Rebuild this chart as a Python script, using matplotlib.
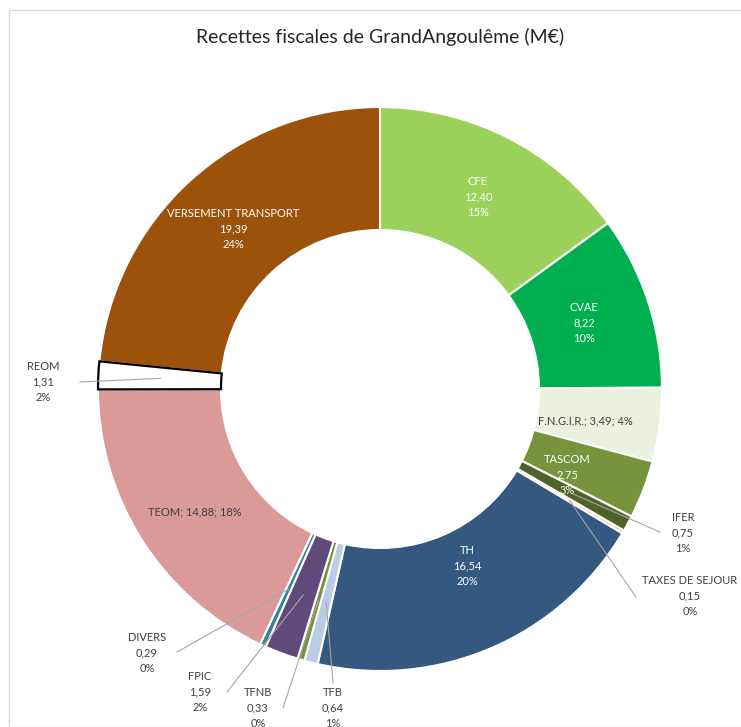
import numpy as np
import matplotlib.pyplot as plt
from matplotlib.patches import Rectangle

# données (M€), dans l'ordre du graphique, en partant du haut et dans le sens horaire
noms = ['CFE', 'CVAE', 'F.N.G.I.R.', 'TASCOM', 'IFER', 'TAXES DE SEJOUR', 'TH',
        'TFB', 'TFNB', 'FPIC', 'DIVERS', 'TEOM', 'REOM', 'VERSEMENT TRANSPORT']
valeurs = [12.40, 8.22, 3.49, 2.75, 0.75, 0.15, 16.54,
           0.64, 0.33, 1.59, 0.29, 14.88, 1.31, 19.39]
pourcents = [15, 10, 4, 3, 1, 0, 20, 1, 0, 2, 0, 18, 2, 24]

couleurs = ['#9CD25C', '#00B050', '#EBF1DE', '#77933C', '#4F6228', '#FAC08F', '#34587F',
            '#B9CDE5', '#76923C', '#604A7B', '#31859C', '#DA9A98', '#FFFFFF', '#9C520B']

# mise en page des étiquettes (pixels dans l'image) : x, y, séparateur, couleur, point d'attache du trait
CX, CY, R = 380, 389, 282
W, H = 741, 727
etiquettes = {
    'CFE': (478, 197, '\n', 'white', None),
    'CVAE': (584, 323, '\n', 'white', None),
    'F.N.G.I.R.': (585, 421, '; ', '#404040', None),
    'TASCOM': (567, 475, '\n', 'white', None),
    'IFER': (683, 533, '\n', '#404040', (660, 532)),
    'TAXES DE SEJOUR': (690, 596, '\n', '#404040', (636, 597)),
    'TH': (467, 566, '\n', 'white', None),
    'TFB': (333, 708, '\n', '#404040', (333, 683)),
    'TFNB': (258, 708, '\n', '#404040', (283, 708)),
    'FPIC': (200, 692, '\n', '#404040', (227, 692)),
    'DIVERS': (147, 653, '\n', '#404040', (177, 652)),
    'TEOM': (195, 512, '; ', '#404040', None),
    'REOM': (43, 382, '\n', '#404040', (80, 382)),
    'VERSEMENT TRANSPORT': (233, 229, '\n', 'white', None),
}


def px(x, y):
    return (x - CX) / R, (CY - y) / R


plt.rcParams['font.family'] = ['Lato', 'DejaVu Sans']

fig = plt.figure(figsize=(W / 100, H / 100), dpi=100)
ax = fig.add_axes([0, 0, 1, 1])

wedges, _ = ax.pie(valeurs, colors=couleurs, startangle=90, counterclock=False,
                   radius=1, wedgeprops=dict(width=1 - 159 / R, edgecolor='white', linewidth=1.5))
# REOM : blanc avec bordure noire
wedges[noms.index('REOM')].set_edgecolor('black')
wedges[noms.index('REOM')].set_linewidth(1.6)
wedges[noms.index('REOM')].set_zorder(3)

ax.set_xlim(-CX / R, (W - CX) / R)
ax.set_ylim(-(H - CY) / R, CY / R)
ax.set_aspect('auto')
ax.axis('off')

total = sum(valeurs)
cumul = np.cumsum([0] + valeurs)
for i, nom in enumerate(noms):
    x, y, sep, col, attache = etiquettes[nom]
    texte = sep.join([nom, f'{valeurs[i]:.2f}'.replace('.', ','), f'{pourcents[i]}%'])
    tx, ty = px(x, y)
    ax.text(tx, ty, texte, ha='center', va='center', color=col, fontsize=8,
            linespacing=1.55, zorder=5)
    if attache is not None:
        mid = np.deg2rad(90 - 360 * (cumul[i] + cumul[i + 1]) / 2 / total)
        ax.plot([px(*attache)[0], 0.78 * np.cos(mid)], [px(*attache)[1], 0.78 * np.sin(mid)],
                color='#A6A6A6', lw=0.8, zorder=4)

fig.text(CX / W, 1 - 37 / H, 'Recettes fiscales de GrandAngoulême (M€)',
         ha='center', va='center', fontsize=14, color='#262626')

fig.add_artist(Rectangle((9 / W, 0), 2, 1 - 10 / H, transform=fig.transFigure,
                         fill=False, edgecolor='#D9D9D9', lw=1))

fig.savefig('out.png', dpi=100)
